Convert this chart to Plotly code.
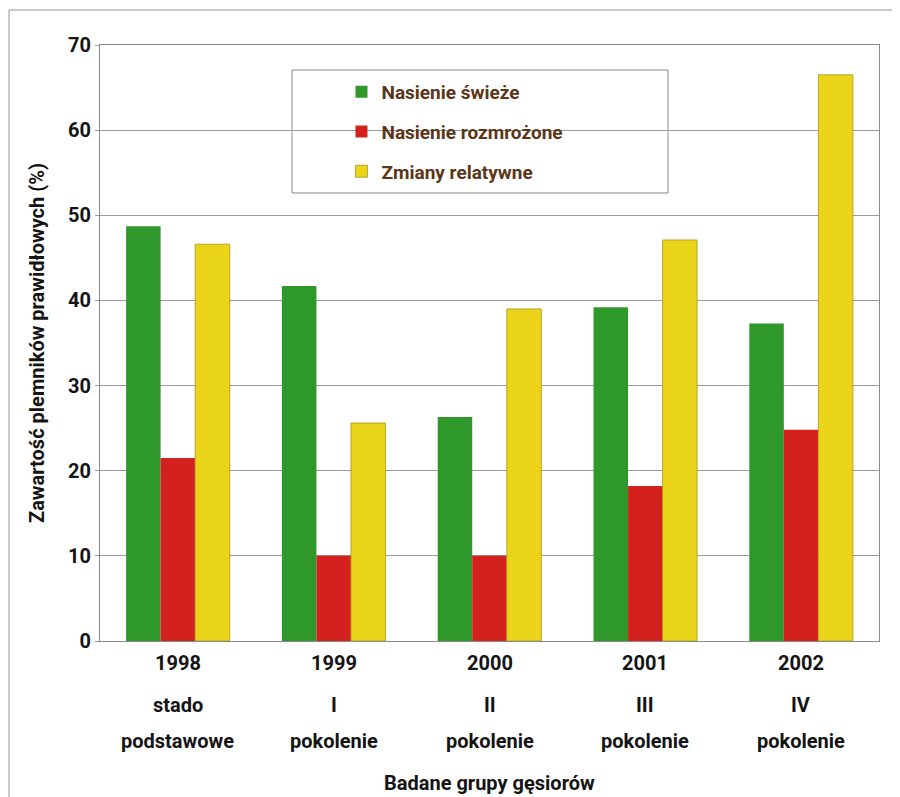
import plotly.graph_objects as go

years = ["1998", "1999", "2000", "2001", "2002"]
groups_line2 = ["stado", "I", "II", "III", "IV"]
groups_line3 = ["podstawowe", "pokolenie", "pokolenie", "pokolenie", "pokolenie"]

fresh = [48.7, 41.7, 26.3, 39.2, 37.3]
thawed = [21.5, 10.0, 10.0, 18.2, 24.8]
relative = [46.6, 25.6, 39.0, 47.1, 66.5]

series_names = ["Nasienie świeże", "Nasienie rozmrożone", "Zmiany relatywne"]
y_ticks = [0, 10, 20, 30, 40, 50, 60, 70]

FONT = "Roboto, Liberation Sans, sans-serif"
BROWN = "#5b3516"
INK = "#141414"

# page pixel -> paper coords (plot area spans x 100..879, y 45..641 in page pixels)
def px(x):
    return (x - 100) / 779

def py(y):
    return (641 - y) / 596

fig = go.Figure()
fig.add_trace(go.Bar(x=years, y=fresh, name=series_names[0], legendgroup="a",
                     marker=dict(color="#2f982b", line=dict(width=0))))
fig.add_trace(go.Bar(x=years, y=thawed, name=series_names[1], legendgroup="b",
                     marker=dict(color="#d3221e", line=dict(width=0))))
fig.add_trace(go.Bar(x=years, y=relative, name=series_names[2], legendgroup="c",
                     marker=dict(color="#e9d213",
                                 line=dict(width=0.8, color="#a8951a"),
                                 pattern=dict(shape="+", size=4, solidity=0.15,
                                              fgcolor="#d6bd10", bgcolor="#ecd619"))))

fig.update_layout(
    width=892, height=789,
    margin=dict(l=92, r=21, t=37, b=156, autoexpand=False),
    paper_bgcolor="white", plot_bgcolor="white",
    barmode="group", bargap=0.335, bargroupgap=0,
    font=dict(family=FONT, size=18, color=INK, weight="bold"),
    showlegend=True,
    legend=dict(x=0.31, y=0.953, xanchor="left", yanchor="top",
                bgcolor="rgba(0,0,0,0)", borderwidth=0,
                tracegroupgap=12,
                font=dict(family=FONT, size=19, color=BROWN, weight="bold")),
    xaxis=dict(type="category", range=[-0.5, len(years) - 0.5], showticklabels=False,
               showgrid=False, showline=True,
               linecolor="#8a8a8a", mirror=True, linewidth=1, ticks=""),
    yaxis=dict(range=[0, 70], tickvals=y_ticks, showgrid=True, gridcolor="#9a9a9a",
               gridwidth=1, showline=True, linecolor="#8a8a8a", mirror=True, linewidth=1,
               zeroline=False, ticks="outside", ticklen=4, tickcolor="#9a9a9a",
               tickfont=dict(family=FONT, size=20, color=INK, weight="bold"),
               title=dict(text="Zawartość plemników prawidłowych (%)", standoff=18,
                          font=dict(family=FONT, size=20, color=INK, weight="bold"))),
)

# legend frame
fig.add_shape(type="rect", xref="paper", yref="paper",
              x0=px(292), x1=px(668), y0=py(193), y1=py(70),
              line=dict(color="#8a8a8a", width=1), fillcolor="white", layer="below")

# page frame lines (scan edges)
fig.add_shape(type="line", xref="paper", yref="paper",
              x0=px(9), x1=px(900), y0=py(10), y1=py(10),
              line=dict(color="#b8b8b8", width=1.5))
fig.add_shape(type="line", xref="paper", yref="paper",
              x0=px(9), x1=px(9), y0=py(10), y1=py(797),
              line=dict(color="#b8b8b8", width=1.5))

rows = [(years, 663), (groups_line2, 705), (groups_line3, 741)]
for labels, ypix in rows:
    for i, lab in enumerate(labels):
        fig.add_annotation(x=i, xref="x", y=py(ypix), yref="paper",
                           text=lab, showarrow=False, yanchor="middle",
                           font=dict(family=FONT, size=20, color=INK, weight="bold"))

fig.add_annotation(x=0.5, xref="paper", y=py(783), yref="paper",
                   text="Badane grupy gęsiorów", showarrow=False, yanchor="middle",
                   font=dict(family=FONT, size=20, color=INK, weight="bold"))

fig.write_html("out.html")
